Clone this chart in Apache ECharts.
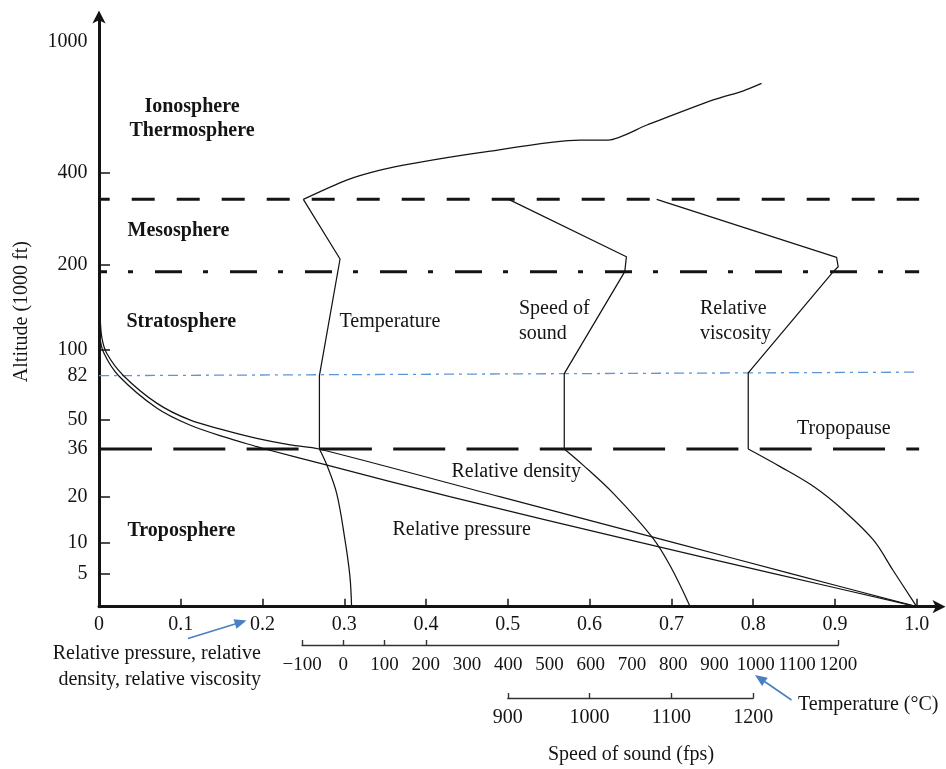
<!DOCTYPE html>
<html>
<head>
<meta charset="utf-8">
<script src="https://cdn.jsdelivr.net/npm/echarts@6/dist/echarts.min.js"></script>
<style>
  html, body { margin: 0; padding: 0; background: #fff; }
  #chart { width: 946px; height: 769px; }
</style>
</head>
<body>
<div id="chart"></div>
<script>
// ---- Altitude axis (1000 ft): labelled breaks and where each sits along the stretched axis (0-100)
const altTicks   = [0, 5, 10, 20, 36, 50, 82, 100, 200, 400, 1000];
const altTickPos = [0, 5.66, 10.84, 18.64, 26.72, 31.75, 39.14, 43.49, 57.98, 73.53, 95.68];
const altLabelTicks = [5, 10, 20, 36, 50, 82, 100, 200, 400, 1000];
const altMarkTicks  = [5, 10, 20, 50, 100, 200, 400];

// ---- Horizontal scales
const relTicks  = [0, 0.1, 0.2, 0.3, 0.4, 0.5, 0.6, 0.7, 0.8, 0.9, 1.0];
const tempTicks = [-100, 0, 100, 200, 300, 400, 500, 600, 700, 800, 900, 1000, 1100, 1200];
const tempMarks = [-100, 0, 100, 200, 1200];
const sosTicks  = [900, 1000, 1100, 1200];

// ---- Layer boundaries (1000 ft); the 82 line rises slightly toward the right
const tropopauseAlt  = 36;
const lowerStratAlt  = [82, 84.5];
const stratopauseAlt = 191.6;
const mesopauseAlt   = 342;

// ---- Temperature (deg) vs altitude
const tempAlt = [0, 4.5, 10.6, 21, 30.6, 36, 82, 212, 342, 384, 412, 443, 492, 550, 550, 619, 734, 776, 810];
const tempC   = [20, 16, 4, -16, -40, -58, -58, -8, -97, 8, 89, 170, 331, 574, 642, 736, 897, 970, 1014];

// ---- Speed of sound (fps) vs altitude
const sosAlt = [0, 6.1, 11.3, 21.1, 30.6, 36, 83.5, 191.6, 217, 342];
const sosFps = [1123, 1099, 1076, 1029, 992, 969, 969, 1043, 1045, 901];

// ---- Relative viscosity vs altitude
const viscAlt = [0, 5.5, 10.6, 17.1, 23.4, 30.1, 36, 84, 191.6, 197.4, 215.7, 342];
const viscRel = [1.0, 0.971, 0.947, 0.910, 0.874, 0.833, 0.794, 0.794, 0.898, 0.904, 0.902, 0.682];

// ---- Relative density vs altitude
const densAlt = [0, 5, 10, 20, 36, 37.9, 41, 45, 49.7, 61.7, 82, 97.7, 115.6, 143, 178];
const densRel = [1.0, 0.845, 0.703, 0.490, 0.269, 0.234, 0.193, 0.152, 0.111, 0.071, 0.030, 0.0094, 0.0033, 0.0012, 0];

// ---- Relative pressure vs altitude
const presAlt = [0, 5, 10, 20, 30.6, 36, 37.1, 41.8, 47.3, 58.1, 82, 97.7, 115.6, 143, 178];
const presRel = [1.0, 0.824, 0.663, 0.429, 0.279, 0.203, 0.193, 0.152, 0.111, 0.071, 0.024, 0.0061, 0.0012, 0.0005, 0];

// ---- How the temperature and speed-of-sound scales line up with the relative scale
const tempScale = { atRel0: -592.4, perRel: 1982.5 };
const sosScale  = { atRel0: 400, perRel: 1000 };

// ---- Layout
const W = 946, H = 769;
const gridLeft = 99, gridRight = 6.5, gridTop = 16.5, gridBottom = 162.3;
const relMax = 1.0279;
const plotW = W - gridLeft - gridRight;
const unitW = plotW / relMax;
const FONT = '"Liberation Serif", "Times New Roman", serif';
const INK = '#141414';
const BLUE = '#4a7fc2';

function altToPos(a) {
  for (let i = 1; i < altTicks.length; i++) {
    if (a <= altTicks[i]) {
      const t = (a - altTicks[i - 1]) / (altTicks[i] - altTicks[i - 1]);
      return altTickPos[i - 1] + t * (altTickPos[i] - altTickPos[i - 1]);
    }
  }
  return altTickPos[altTickPos.length - 1];
}
function posToAltLabel(p) {
  let best = 0, d = Infinity;
  altTickPos.forEach((q, i) => { if (Math.abs(q - p) < d) { d = Math.abs(q - p); best = i; } });
  return String(altTicks[best]);
}
const pairs = (xs, alts) => xs.map((x, i) => [x, altToPos(alts[i])]);
const scaleX = (s, v) => gridLeft + (v - s.atRel0) / s.perRel * unitW;

const chart = echarts.init(document.getElementById('chart'), null, { renderer: 'canvas' });

// One drawn piece of a profile: points [from, to] of the arrays, smooth or straight
function curve(xs, alts, xAxisIndex, from, to, smooth) {
  return {
    type: 'line', xAxisIndex, yAxisIndex: 0,
    data: pairs(xs.slice(from, to + 1), alts.slice(from, to + 1)),
    symbol: 'none', smooth: smooth || false, silent: true,
    lineStyle: { color: INK, width: 1.25 }, z: 3
  };
}
function boundary(altLeft, altRight, style) {
  return {
    type: 'line', xAxisIndex: 0, yAxisIndex: 0, symbol: 'none', silent: true,
    data: [[0, altToPos(altLeft)], [1.003, altToPos(altRight)]],
    lineStyle: style, z: 2
  };
}

function text(str, x, y, opt) {
  opt = opt || {};
  return {
    type: 'text', x, y, z: 100, silent: true,
    style: {
      text: str, fill: INK,
      font: (opt.bold ? 'bold ' : '') + '20px ' + FONT,
      align: opt.align || 'left', verticalAlign: 'middle'
    }
  };
}
function arrow(x1, y1, x2, y2) {
  const ang = Math.atan2(y2 - y1, x2 - x1);
  const len = 12, half = 5;
  const bx = x2 - len * Math.cos(ang), by = y2 - len * Math.sin(ang);
  const px = -Math.sin(ang) * half, py = Math.cos(ang) * half;
  return [
    { type: 'line', z: 100, silent: true, shape: { x1, y1, x2: bx, y2: by }, style: { stroke: BLUE, lineWidth: 1.6 } },
    { type: 'polygon', z: 100, silent: true, shape: { points: [[x2, y2], [bx + px, by + py], [bx - px, by - py]] }, style: { fill: BLUE } }
  ];
}

const tempLeft = scaleX(tempScale, tempTicks[0]);
const tempRight = scaleX(tempScale, tempTicks[tempTicks.length - 1]);
const sosLeft = scaleX(sosScale, sosTicks[0]);
const sosRight = scaleX(sosScale, sosTicks[sosTicks.length - 1]);

const labelStyle = { color: INK, fontFamily: FONT, fontSize: 20 };
const last = a => a.length - 1;
const arrowLine = { show: true, symbol: ['none', 'arrow'], symbolSize: [10, 13], symbolOffset: [0, 6], lineStyle: { color: INK, width: 3 } };

const option = {
  animation: false,
  backgroundColor: '#fff',
  grid: [
    { left: gridLeft, right: gridRight, top: gridTop, bottom: gridBottom, outerBoundsMode: 'none', containLabel: false },
    { left: tempLeft, width: tempRight - tempLeft, top: 644, height: 1, outerBoundsMode: 'none', containLabel: false },
    { left: sosLeft, width: sosRight - sosLeft, top: 697, height: 1, outerBoundsMode: 'none', containLabel: false }
  ],
  xAxis: [
    {
      type: 'value', gridIndex: 0, min: 0, max: relMax,
      axisLine: arrowLine,
      axisTick: { show: true, inside: true, length: 8, customValues: relTicks.slice(1), lineStyle: { color: INK, width: 1.5 } },
      axisLabel: { show: true, margin: 8, customValues: relTicks, formatter: v => v === 0 ? '0' : v.toFixed(1), ...labelStyle },
      splitLine: { show: false }
    },
    { type: 'value', gridIndex: 0, show: false, min: tempScale.atRel0, max: tempScale.atRel0 + tempScale.perRel * relMax },
    { type: 'value', gridIndex: 0, show: false, min: sosScale.atRel0, max: sosScale.atRel0 + sosScale.perRel * relMax },
    {
      type: 'value', gridIndex: 1, min: tempTicks[0], max: tempTicks[last(tempTicks)],
      axisLine: { show: true, lineStyle: { color: '#333', width: 1.4 } },
      axisTick: { show: true, inside: true, length: 5, customValues: tempMarks, lineStyle: { color: '#333', width: 1.4 } },
      axisLabel: { show: true, margin: 11, customValues: tempTicks, formatter: v => v < 0 ? '\u2212' + Math.abs(v) : String(v), ...labelStyle, fontSize: 19 },
      splitLine: { show: false }
    },
    {
      type: 'value', gridIndex: 2, min: sosTicks[0], max: sosTicks[last(sosTicks)],
      axisLine: { show: true, lineStyle: { color: '#333', width: 1.4 } },
      axisTick: { show: true, inside: true, length: 5, customValues: sosTicks, lineStyle: { color: '#333', width: 1.4 } },
      axisLabel: { show: true, margin: 10, customValues: sosTicks, formatter: v => String(v), ...labelStyle },
      splitLine: { show: false }
    }
  ],
  yAxis: [
    {
      type: 'value', gridIndex: 0, min: 0, max: 100, offset: 1.5,
      name: 'Altitude (1000 ft)', nameLocation: 'middle', nameGap: 65.5, nameRotate: 90,
      nameTextStyle: { color: INK, fontFamily: FONT, fontSize: 20 },
      axisLine: arrowLine,
      axisTick: { show: true, inside: true, length: 11, customValues: altMarkTicks.map(altToPos), lineStyle: { color: INK, width: 1.5 } },
      axisLabel: { show: true, margin: 10, customValues: altLabelTicks.map(altToPos), formatter: posToAltLabel, ...labelStyle },
      splitLine: { show: false }
    },
    { type: 'value', gridIndex: 1, show: false, min: 0, max: 1 },
    { type: 'value', gridIndex: 2, show: false, min: 0, max: 1 }
  ],
  series: [
    boundary(tropopauseAlt, tropopauseAlt, { color: INK, width: 3, type: [52, 21.3], dashOffset: 72.3 }),
    boundary(mesopauseAlt, mesopauseAlt, { color: INK, width: 3, type: [23, 22], dashOffset: 12.3 }),
    boundary(stratopauseAlt, stratopauseAlt, { color: INK, width: 3, type: [27, 21, 5, 22], dashOffset: 19 }),
    boundary(lowerStratAlt[0], lowerStratAlt[1], { color: '#5e95d6', width: 1.3, type: [10, 5, 3, 5] }),
    // density and pressure: one smooth stroke each
    curve(densRel, densAlt, 0, 0, last(densAlt), 0.3),
    curve(presRel, presAlt, 0, 0, last(presAlt), 0.3),
    // viscosity: curved troposphere part, straight segments above
    curve(viscRel, viscAlt, 0, 0, 6, 0.35),
    curve(viscRel, viscAlt, 0, 6, last(viscAlt)),
    // temperature: curved troposphere, straight middle, curved thermosphere
    curve(tempC, tempAlt, 1, 0, 5, 0.35),
    curve(tempC, tempAlt, 1, 5, 8),
    curve(tempC, tempAlt, 1, 8, last(tempAlt), 0.25),
    // speed of sound: curved troposphere part, straight segments above
    curve(sosFps, sosAlt, 2, 0, 5, 0.35),
    curve(sosFps, sosAlt, 2, 5, last(sosAlt))
  ],
  graphic: [
    text('Ionosphere', 192, 107, { bold: true, align: 'center' }),
    text('Thermosphere', 192, 131, { bold: true, align: 'center' }),
    text('Mesosphere', 127.5, 231, { bold: true }),
    text('Stratosphere', 126.5, 322, { bold: true }),
    text('Troposphere', 127.5, 531, { bold: true }),
    text('Temperature', 339.5, 322),
    text('Speed of', 519, 308.5),
    text('sound', 519, 333.5),
    text('Relative', 700, 308.5),
    text('viscosity', 700, 333.5),
    text('Tropopause', 797, 428.5),
    text('Relative density', 451.5, 471.5),
    text('Relative pressure', 392.5, 530),
    text('Relative pressure, relative', 261, 654, { align: 'right' }),
    text('density, relative viscosity', 261, 679.5, { align: 'right' }),
    text('Temperature (\u00B0C)', 798, 705),
    text('Speed of sound (fps)', 631, 755, { align: 'center' }),
    ...arrow(188, 638.5, 246.5, 620.5),
    ...arrow(791.5, 700, 755, 675)
  ]
};

chart.setOption(option);
</script>
</body>
</html>
